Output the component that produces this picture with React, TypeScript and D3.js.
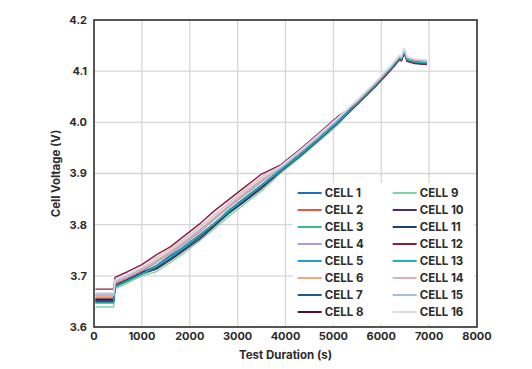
import { useEffect, useRef } from 'react'
import * as d3 from 'd3'

// test time (s), shared by all cells
const times = [30, 410, 440, 700, 1000, 1300, 1600, 1900, 2200, 2500, 2800, 3100, 3500, 3900, 4300, 4700, 5100, 5500, 5900, 6200, 6380, 6420, 6480, 6540, 6700, 6950]

const cell1 = [3.655, 3.655, 3.682, 3.693, 3.707, 3.720, 3.740, 3.758, 3.780, 3.801, 3.827, 3.849, 3.878, 3.907, 3.937, 3.969, 4.002, 4.039, 4.076, 4.106, 4.126, 4.124, 4.140, 4.123, 4.119, 4.117]
const cell2 = [3.657, 3.657, 3.685, 3.696, 3.710, 3.726, 3.744, 3.764, 3.786, 3.809, 3.833, 3.855, 3.884, 3.911, 3.941, 3.973, 4.006, 4.040, 4.077, 4.107, 4.127, 4.125, 4.141, 4.124, 4.120, 4.118]
const cell3 = [3.649, 3.649, 3.678, 3.689, 3.703, 3.713, 3.731, 3.751, 3.773, 3.796, 3.820, 3.842, 3.871, 3.903, 3.933, 3.965, 3.998, 4.037, 4.074, 4.104, 4.124, 4.122, 4.138, 4.121, 4.117, 4.115]
const cell4 = [3.663, 3.663, 3.688, 3.699, 3.713, 3.729, 3.747, 3.767, 3.789, 3.812, 3.836, 3.858, 3.887, 3.913, 3.943, 3.975, 4.008, 4.042, 4.079, 4.109, 4.129, 4.127, 4.143, 4.126, 4.122, 4.120]
const cell5 = [3.653, 3.653, 3.681, 3.692, 3.706, 3.719, 3.737, 3.759, 3.779, 3.802, 3.824, 3.848, 3.877, 3.907, 3.937, 3.969, 4.002, 4.039, 4.076, 4.106, 4.126, 4.124, 4.140, 4.123, 4.119, 4.117]
const cell6 = [3.659, 3.659, 3.687, 3.698, 3.712, 3.730, 3.748, 3.768, 3.790, 3.813, 3.837, 3.859, 3.888, 3.912, 3.942, 3.974, 4.007, 4.041, 4.078, 4.108, 4.128, 4.126, 4.142, 4.125, 4.121, 4.119]
const cell7 = [3.652, 3.652, 3.680, 3.691, 3.705, 3.718, 3.736, 3.756, 3.778, 3.801, 3.825, 3.847, 3.876, 3.906, 3.936, 3.968, 4.001, 4.038, 4.075, 4.105, 4.125, 4.123, 4.139, 4.122, 4.118, 4.116]
const cell8 = [3.654, 3.654, 3.681, 3.692, 3.706, 3.716, 3.734, 3.754, 3.776, 3.799, 3.823, 3.845, 3.874, 3.905, 3.935, 3.967, 4.000, 4.036, 4.073, 4.103, 4.123, 4.121, 4.137, 4.120, 4.116, 4.114]
const cell9 = [3.639, 3.639, 3.675, 3.686, 3.700, 3.708, 3.726, 3.746, 3.768, 3.791, 3.815, 3.837, 3.866, 3.901, 3.931, 3.963, 3.996, 4.037, 4.074, 4.104, 4.124, 4.122, 4.138, 4.121, 4.117, 4.115]
const cell10 = [3.651, 3.651, 3.680, 3.691, 3.705, 3.713, 3.731, 3.751, 3.771, 3.796, 3.822, 3.842, 3.871, 3.904, 3.934, 3.966, 3.999, 4.035, 4.072, 4.102, 4.122, 4.120, 4.136, 4.119, 4.115, 4.113]
const cell11 = [3.649, 3.649, 3.679, 3.690, 3.704, 3.717, 3.735, 3.755, 3.777, 3.800, 3.824, 3.846, 3.875, 3.906, 3.936, 3.968, 4.001, 4.037, 4.074, 4.104, 4.124, 4.122, 4.138, 4.121, 4.117, 4.115]
const cell12 = [3.674, 3.674, 3.697, 3.708, 3.722, 3.741, 3.757, 3.779, 3.801, 3.826, 3.848, 3.870, 3.899, 3.917, 3.947, 3.979, 4.012, 4.036, 4.073, 4.103, 4.123, 4.121, 4.137, 4.120, 4.116, 4.114]
const cell13 = [3.647, 3.647, 3.679, 3.690, 3.704, 3.718, 3.736, 3.756, 3.778, 3.801, 3.825, 3.847, 3.876, 3.906, 3.936, 3.968, 4.001, 4.038, 4.075, 4.105, 4.125, 4.123, 4.139, 4.122, 4.118, 4.116]
const cell14 = [3.665, 3.665, 3.691, 3.702, 3.716, 3.735, 3.753, 3.773, 3.795, 3.818, 3.842, 3.864, 3.893, 3.915, 3.945, 3.977, 4.010, 4.042, 4.079, 4.109, 4.129, 4.127, 4.143, 4.126, 4.122, 4.120]
const cell15 = [3.662, 3.662, 3.687, 3.698, 3.712, 3.727, 3.745, 3.765, 3.787, 3.810, 3.834, 3.856, 3.885, 3.911, 3.941, 3.973, 4.006, 4.043, 4.080, 4.110, 4.130, 4.128, 4.144, 4.127, 4.123, 4.121]
const cell16 = [3.667, 3.667, 3.692, 3.703, 3.717, 3.733, 3.751, 3.771, 3.793, 3.816, 3.840, 3.862, 3.891, 3.914, 3.944, 3.976, 4.009, 4.044, 4.081, 4.111, 4.131, 4.129, 4.145, 4.128, 4.124, 4.122]

const cellNames = ['CELL 1', 'CELL 2', 'CELL 3', 'CELL 4', 'CELL 5', 'CELL 6', 'CELL 7', 'CELL 8',
  'CELL 9', 'CELL 10', 'CELL 11', 'CELL 12', 'CELL 13', 'CELL 14', 'CELL 15', 'CELL 16']
const cellValues = [cell1, cell2, cell3, cell4, cell5, cell6, cell7, cell8,
  cell9, cell10, cell11, cell12, cell13, cell14, cell15, cell16]
const cellColors = ['#1f6fb5', '#e8573f', '#3dbb88', '#b09ad6', '#1f9fd6', '#f4a582', '#1f5a80', '#4a1530',
  '#88cfa6', '#4b2c6e', '#1d4170', '#8b1c3e', '#1fb3b3', '#e0b0b8', '#a7bfdc', '#d9dbe9']

const xTicks = [0, 1000, 2000, 3000, 4000, 5000, 6000, 7000, 8000]
const yTicks = [3.6, 3.7, 3.8, 3.9, 4.0, 4.1, 4.2]

export default function App() {
  const svgRef = useRef<SVGSVGElement>(null)

  useEffect(() => {
    document.body.style.margin = '0'
    if (!svgRef.current) return

    const svg = d3.select(svgRef.current)
    svg.selectAll('*').remove()

    const width = 532
    const height = 369
    const margin = { top: 20, right: 55, bottom: 42, left: 94 }
    const w = width - margin.left - margin.right
    const h = height - margin.top - margin.bottom
    const font = 'Inter, "Open Sans", sans-serif'
    const textColor = '#2b2b2b'

    svg.attr('width', width).attr('height', height)
    const g = svg.append('g').attr('transform', `translate(${margin.left},${margin.top})`)

    const x = d3.scaleLinear().domain([0, 8000]).range([0, w])
    const y = d3.scaleLinear().domain([3.6, 4.2]).range([h, 0])

    // grid
    g.append('g')
      .selectAll('line')
      .data(xTicks)
      .enter()
      .append('line')
      .attr('x1', d => x(d)).attr('x2', d => x(d))
      .attr('y1', 0).attr('y2', h)
      .attr('stroke', '#d6d6d6').attr('stroke-width', 1.3)
    g.append('g')
      .selectAll('line')
      .data(yTicks)
      .enter()
      .append('line')
      .attr('x1', 0).attr('x2', w)
      .attr('y1', d => y(d)).attr('y2', d => y(d))
      .attr('stroke', '#d6d6d6').attr('stroke-width', 1.3)

    // lines
    const line = d3.line<number>()
      .x((_, i) => x(times[i]))
      .y(d => y(d))

    g.append('g')
      .selectAll('path')
      .data(cellValues)
      .enter()
      .append('path')
      .attr('d', d => line(d))
      .attr('fill', 'none')
      .attr('stroke', (_, i) => cellColors[i])
      .attr('stroke-width', 1.4)
      .attr('stroke-linejoin', 'round')

    // legend (white box in the lower right of the plot)
    const legTop = 163
    const legend = g.append('g').attr('transform', `translate(${x(4150)},${legTop})`)
    legend.append('rect')
      .attr('x', 0).attr('y', 0)
      .attr('width', w - x(4150) - 3)
      .attr('height', h - legTop - 3)
      .attr('fill', '#fff')

    cellNames.forEach((name, i) => {
      const col = Math.floor(i / 8)
      const row = i % 8
      const lg = legend.append('g').attr('transform', `translate(${5 + col * 95},${10 + row * 17})`)
      lg.append('line')
        .attr('x1', 0).attr('x2', 24)
        .attr('y1', 0).attr('y2', 0)
        .attr('stroke', cellColors[i])
        .attr('stroke-width', 2)
      lg.append('text')
        .attr('x', 27)
        .attr('y', 0)
        .attr('dy', '0.36em')
        .style('font-family', font)
        .style('font-size', '11.5px')
        .style('font-weight', '700')
        .style('fill', textColor)
        .text(name)
    })

    // frame
    g.append('rect')
      .attr('x', 0).attr('y', 0)
      .attr('width', w).attr('height', h)
      .attr('fill', 'none')
      .attr('stroke', '#333')
      .attr('stroke-width', 1.6)

    // tick labels
    g.append('g')
      .selectAll('text')
      .data(xTicks)
      .enter()
      .append('text')
      .attr('x', d => x(d))
      .attr('y', h + 13)
      .attr('text-anchor', 'middle')
      .style('font-family', font)
      .style('font-size', '11px')
      .style('font-weight', '700')
      .style('fill', textColor)
      .text(d => d)

    g.append('g')
      .selectAll('text')
      .data(yTicks)
      .enter()
      .append('text')
      .attr('x', -7)
      .attr('y', d => y(d))
      .attr('dy', '0.36em')
      .attr('text-anchor', 'end')
      .style('font-family', font)
      .style('font-size', '11px')
      .style('font-weight', '700')
      .style('fill', textColor)
      .text(d => d.toFixed(1))

    // axis titles
    g.append('text')
      .attr('x', w / 2)
      .attr('y', h + 32)
      .attr('text-anchor', 'middle')
      .style('font-family', font)
      .style('font-size', '11.5px')
      .style('font-weight', '700')
      .style('fill', textColor)
      .text('Test Duration (s)')

    g.append('text')
      .attr('transform', `translate(-34,${h / 2}) rotate(-90)`)
      .attr('text-anchor', 'middle')
      .style('font-family', font)
      .style('font-size', '11.5px')
      .style('font-weight', '700')
      .style('fill', textColor)
      .text('Cell Voltage (V)')
  }, [])

  return <svg ref={svgRef} style={{ display: 'block' }} />
}
